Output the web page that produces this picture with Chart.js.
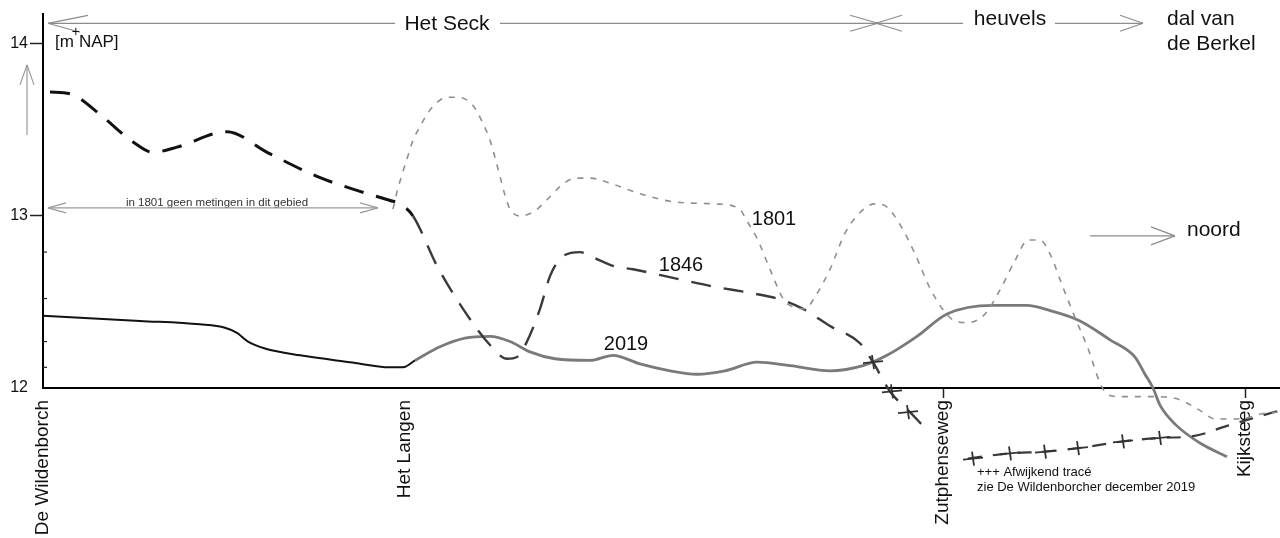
<!DOCTYPE html>
<html lang="nl">
<head>
<meta charset="utf-8">
<title>Hoogteprofiel De Wildenborch - Kijksteeg</title>
<script src="https://cdn.jsdelivr.net/npm/chart.js@4"></script>
<style>
  html, body { margin: 0; padding: 0; background: #fff; }
  #wrap { position: relative; width: 1280px; height: 538px; }
</style>
</head>
<body>
<div id="wrap"><canvas id="profiel"></canvas></div>
<script>
/* ============================================================
   Hoogteprofiel van het pad De Wildenborch -> Kijksteeg
   x = afstand langs het pad (schaaleenheden van de schets)
   y = hoogte in m +NAP, metingen 1801, 1846 en 2019
   ============================================================ */

const places = ['De Wildenborch', 'Het Langen', 'Zutphenseweg', 'Kijksteeg'];
const placeDist = [0, 362, 900, 1202];
const yTicks = [12, 13, 14];
const yMinorTicks = [12.12, 12.27, 12.52, 12.79];

// 2019 (doorgetrokken lijn)
const dist2019 = [0, 97, 157, 182, 194, 205, 222, 257, 307, 347, 360, 372, 397, 422, 447, 467, 487, 512, 547, 570,
  597, 627, 654, 682, 714, 747, 787, 820, 844, 874, 904, 950, 984, 1007, 1037, 1067, 1092, 1102, 1110, 1117,
  1132, 1157, 1184];
const height2019 = [12.42, 12.39, 12.37, 12.35, 12.32, 12.27, 12.23, 12.19, 12.15, 12.12, 12.12, 12.16, 12.24, 12.29, 12.30, 12.27, 12.21, 12.17, 12.16, 12.19,
  12.14, 12.10, 12.08, 12.10, 12.15, 12.13, 12.10, 12.13, 12.19, 12.30, 12.43, 12.48, 12.48, 12.45, 12.39, 12.28, 12.18, 12.08, 12.00, 11.90,
  11.79, 11.68, 11.60];

// 1846 (grof gestreept)
const dist1846 = [7, 27, 57, 90, 110, 134, 184, 224, 274, 324, 347, 357, 370, 394, 420, 447, 464, 474, 484, 497,
  507, 517, 537, 550, 570, 590, 630, 670, 710, 740, 760, 787, 817, 830, 847, 867, 880];
const height1846 = [13.72, 13.71, 13.59, 13.43, 13.37, 13.40, 13.49, 13.37, 13.23, 13.13, 13.09, 13.07, 13.00, 12.71, 12.46, 12.25, 12.17, 12.18, 12.27, 12.46,
  12.65, 12.75, 12.79, 12.76, 12.71, 12.69, 12.64, 12.59, 12.55, 12.51, 12.46, 12.36, 12.26, 12.15, 11.98, 11.86, 11.78];

// 1801 (fijn gestreept)
const dist1801 = [350, 354, 359, 365, 370, 377, 385, 394, 404, 414, 429, 439, 447, 452, 457, 462, 467, 477, 492, 505,
  517, 532, 547, 572, 602, 634, 672, 697, 702, 714, 727, 740, 747, 762, 772, 787, 802, 817, 832, 842,
  857, 872, 887, 902, 912, 925, 942, 957, 972, 985, 997, 1007, 1019, 1032, 1045, 1057, 1065, 1077, 1107, 1132,
  1157, 1172, 1197, 1219, 1237];
const height1801 = [13.04, 13.14, 13.24, 13.35, 13.44, 13.52, 13.60, 13.66, 13.69, 13.69, 13.65, 13.55, 13.44, 13.34, 13.23, 13.12, 13.04, 13.00, 13.03, 13.10,
  13.17, 13.22, 13.22, 13.18, 13.12, 13.08, 13.07, 13.04, 12.99, 12.87, 12.69, 12.52, 12.48, 12.46, 12.53, 12.69, 12.90, 13.02, 13.07, 13.06,
  12.95, 12.78, 12.58, 12.44, 12.39, 12.38, 12.43, 12.57, 12.74, 12.86, 12.86, 12.78, 12.60, 12.41, 12.23, 12.03, 11.96, 11.95, 11.95, 11.94,
  11.87, 11.82, 11.82, 11.85, 11.86];

// afwijkend trace (+++)
const distAfw = [925, 967, 1002, 1035, 1080, 1117, 1150, 1184, 1237];
const heightAfw = [11.59, 11.62, 11.63, 11.65, 11.69, 11.71, 11.72, 11.78, 11.87];
const distCross = [830, 849, 865, 930, 967, 1002, 1035, 1080, 1117];
const heightCross = [12.15, 11.98, 11.86, 11.59, 11.62, 11.63, 11.65, 11.69, 11.71];

const FONT = "'Liberation Sans', Arial, sans-serif";
const pts = (xs, ys) => xs.map((x, i) => ({ x, y: ys[i] }));

// text and arrows that were written on the sketch
const sketchNotes = {
  id: 'sketchNotes',
  afterDatasetsDraw(chart) {
    const { ctx, scales: { x, y } } = chart;
    const X = (v) => x.getPixelForValue(v);
    const Y = (v) => y.getPixelForValue(v);

    const line = (x1, y1, x2, y2, color, w) => {
      ctx.strokeStyle = color;
      ctx.lineWidth = w;
      ctx.beginPath();
      ctx.moveTo(x1, y1);
      ctx.lineTo(x2, y2);
      ctx.stroke();
    };
    const head = (tx, ty, w1, w2, color) => {
      line(tx, ty, tx + w1[0], ty + w1[1], color, 1.2);
      line(tx, ty, tx + w2[0], ty + w2[1], color, 1.2);
    };
    const text = (str, px, py, size, align, color) => {
      ctx.font = `${size}px ${FONT}`;
      ctx.fillStyle = color;
      ctx.textAlign = align;
      ctx.textBaseline = 'middle';
      ctx.fillText(str, px, py);
    };

    ctx.save();
    const grey = '#8c8c8c';

    // the +++ marks: chart.js skips points outside the chart area,
    // so draw them here at the positions the scales computed
    chart.getDatasetMeta(3).data.forEach((p) => {
      line(p.x - 10, p.y + 1, p.x + 10, p.y - 1, '#333', 1.8);
      line(p.x - 1, p.y - 7, p.x + 1, p.y + 7, '#333', 1.8);
    });

    // top row: Het Seck / heuvels / dal van de Berkel
    const top = Y(14.12);
    line(X(5), top, X(352), top, grey, 1.3);
    line(X(457), top, X(835), top, grey, 1.3);
    head(X(5), top, [40, -8], [32, 9], grey);
    head(X(835), top, [-28, -8], [-28, 8], grey);
    line(X(833), top, X(920), top, grey, 1.3);
    line(X(1012), top, X(1100), top, grey, 1.3);
    head(X(833), top, [26, -8], [26, 8], grey);
    head(X(1100), top, [-23, -8], [-23, 8], grey);
    text('Het Seck', X(404), Y(14.113), 21, 'center', '#111');
    text('heuvels', X(967), Y(14.142), 21, 'center', '#111');
    text('dal van', X(1124), Y(14.142), 21, 'left', '#111');
    text('de Berkel', X(1124), Y(13.997), 21, 'left', '#111');

    // unit + upward arrow
    ctx.font = `17px ${FONT}`;
    text('[m', X(12), Y(14.012), 17, 'left', '#111');
    const mEnd = X(12) + ctx.measureText('[m').width;
    text('+', mEnd + 2, Y(14.012) - 10, 14, 'center', '#111');
    text('NAP]', mEnd + 5, Y(14.012), 17, 'left', '#111');
    line(X(-16), Y(13.878), X(-16), Y(13.471), '#999', 1.2);
    head(X(-16), Y(13.878), [-7, 20], [7, 20], '#999');

    // minor ticks on the y axis
    yMinorTicks.forEach((v) => line(X(0), Y(v), X(0) + 4, Y(v), '#222', 1.2));

    // no measurements in 1801
    text('in 1801 geen metingen in dit gebied', X(174), Y(13.076), 11.5, 'center', '#333');
    line(X(5), Y(13.047), X(335), Y(13.047), '#9a9a9a', 1.2);
    head(X(5), Y(13.047), [18, -5], [18, 5], '#9a9a9a');
    head(X(335), Y(13.047), [-18, -5], [-18, 5], '#9a9a9a');

    // year labels
    text('1801', X(731), Y(12.98), 20, 'center', '#111');
    text('1846', X(638), Y(12.712), 20, 'center', '#111');
    text('2019', X(583), Y(12.253), 20, 'center', '#111');

    // noord
    line(X(1047), Y(12.884), X(1132), Y(12.884), grey, 1.2);
    head(X(1132), Y(12.884), [-24, -9], [-24, 9], grey);
    text('noord', X(1144), Y(12.915), 21, 'left', '#111');

    // afwijkend trace note
    text('+++ Afwijkend tracé', X(934), Y(11.509), 13, 'left', '#111');
    text('zie De Wildenborcher december 2019', X(934), Y(11.42), 13, 'left', '#111');

    ctx.restore();
  }
};

new Chart(document.getElementById('profiel'), {
  type: 'line',
  data: {
    datasets: [
      {
        label: '1801',
        data: pts(dist1801, height1801),
        borderColor: '#8f8f8f',
        borderWidth: 1.6,
        borderDash: [6, 7],
        pointRadius: 0,
        cubicInterpolationMode: 'monotone',
        clip: false
      },
      {
        label: '1846',
        data: pts(dist1846, height1846),
        borderColor: '#1a1a1a',
        borderWidth: 3,
        borderDash: [20, 13],
        pointRadius: 0,
        cubicInterpolationMode: 'monotone',
        clip: false,
        segment: {
          borderColor: (c) => (c.p0.parsed.x < 360 ? '#111' : '#3a3a3a'),
          borderWidth: (c) => (c.p0.parsed.x < 360 ? 3 : 2.4)
        }
      },
      {
        label: 'Afwijkend tracé',
        data: pts(distAfw, heightAfw),
        borderColor: '#3a3a3a',
        borderWidth: 2.2,
        borderDash: [14, 11],
        pointRadius: 0,
        cubicInterpolationMode: 'monotone',
        clip: false
      },
      {
        label: '+++',
        data: pts(distCross, heightCross),
        showLine: false,
        pointRadius: 0,
        clip: false
      },
      {
        label: '2019',
        data: pts(dist2019, height2019),
        borderColor: '#777',
        borderWidth: 2.6,
        pointRadius: 0,
        cubicInterpolationMode: 'monotone',
        clip: false,
        segment: {
          borderColor: (c) => (c.p0.parsed.x < 372 ? '#111' : '#7a7a7a'),
          borderWidth: (c) => (c.p0.parsed.x < 372 ? 2 : 2.8)
        }
      }
    ]
  },
  options: {
    responsive: true,
    maintainAspectRatio: false,
    animation: false,
    layout: { padding: { top: 14, right: 0, bottom: 0, left: 0 } },
    plugins: {
      legend: { display: false },
      tooltip: { enabled: false }
    },
    scales: {
      x: {
        type: 'linear',
        min: 0,
        max: 1237,
        afterBuildTicks: (axis) => { axis.ticks = placeDist.map((v) => ({ value: v })); },
        afterFit: (axis) => { axis.height = 150; },
        border: { display: true, color: '#000', width: 2 },
        grid: {
          drawOnChartArea: false,
          drawTicks: true,
          tickLength: 10,
          tickWidth: 1.5,
          tickColor: (c) => (c.index >= 2 ? '#222' : 'rgba(0,0,0,0)')
        },
        ticks: {
          autoSkip: false,
          minRotation: 90,
          maxRotation: 90,
          padding: 2,
          color: '#111',
          font: { size: 19, family: FONT },
          callback: (v) => places[placeDist.indexOf(v)] || ''
        }
      },
      y: {
        min: 12,
        max: 14.174,
        afterBuildTicks: (axis) => { axis.ticks = yTicks.map((v) => ({ value: v })); },
        afterFit: (axis) => { axis.width = 43; },
        border: { display: true, color: '#000', width: 2 },
        grid: {
          drawOnChartArea: false,
          drawTicks: true,
          tickLength: 13,
          tickWidth: 1.5,
          tickColor: (c) => (c.tick && c.tick.value === 12 ? 'rgba(0,0,0,0)' : '#222')
        },
        ticks: {
          padding: 2,
          color: '#111',
          font: { size: 16, family: FONT }
        }
      }
    }
  },
  plugins: [sketchNotes]
});
</script>
</body>
</html>
